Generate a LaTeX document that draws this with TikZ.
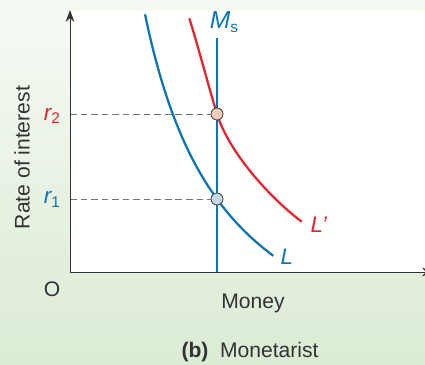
\documentclass[tikz,border=0pt]{standalone}
\usepackage{fontspec}
\setmainfont{Liberation Sans}
\usetikzlibrary{positioning,arrows.meta}
\definecolor{lblue}{HTML}{0A74B4}
\definecolor{lred}{HTML}{E8232B}
\definecolor{bggreen}{HTML}{DBEBD5}
\definecolor{bglight}{HTML}{F6FAF4}
\definecolor{ptpeach}{HTML}{F8CDB5}
\definecolor{ptblue}{HTML}{C8D7E8}
\newcommand{\lowsub}[1]{{\upshape\fontsize{11}{12}\selectfont\raisebox{-0.45ex}{#1}}}

\begin{document}
\begin{tikzpicture}[
    axis/.style={draw=black!80, line width=0.7pt},
    curve/.style={line width=1.6pt},
    guide/.style={draw=black!55, line width=0.6pt, dash pattern=on 4.7pt off 2.8pt},
    pt/.style={circle, draw=black!75, line width=0.6pt, minimum size=0.3cm, inner sep=0pt},
    lab/.style={font=\fontsize{16}{18}\selectfont\itshape, inner sep=0pt},
    txt/.style={font=\fontsize{15}{17}\selectfont, text=black!80, inner sep=0pt}
]
\useasboundingbox (-1.75,-2.325) rectangle (8.875,6.8);
\shade[top color=bglight, bottom color=bggreen] (-1.75,-2.325) rectangle (8.875,6.8);
\fill[white] (0,0) rectangle (8.875,6.525);

\coordinate (O) at (0,0);
\coordinate (ytop) at (0,6.55);
\coordinate (xend) at (9.1,0);
\coordinate (msbot) at (3.675,0);
\coordinate (mstop) at (3.675,5.85);
\coordinate (eq2) at (3.675,3.95);
\coordinate (eq1) at (3.675,1.825);
\coordinate (r2ax) at (0,3.95);
\coordinate (r1ax) at (0,1.825);
\coordinate (ldtop) at (2.983,6.343);
\coordinate (ldend) at (5.793,1.258);

\draw[curve, lblue] plot[domain=1.875:5.083, samples=60] (\x, {20.63/(\x+0.2)-3.5});
\draw[curve, lred] (ldtop) .. controls (3.2,5.65) and (3.5,4.51) .. (eq2)
    .. controls (3.975,2.99) and (4.993,1.858) .. (ldend);
\draw[curve, lblue] (msbot) -- (mstop);

\node[pt, fill=ptpeach] (e2) at (eq2) {};
\node[pt, fill=ptblue] (e1) at (eq1) {};
\draw[guide] (r2ax) -- (e2.west);
\draw[guide] (r1ax) -- (e1.west);

\draw[axis, -{Stealth[length=3mm, width=2.2mm]}] (O) -- (ytop);
\draw[axis, -{Stealth[length=3mm, width=2.2mm]}] (O) -- (xend);

\node[lab, text=lblue, font=\fontsize{17.5}{19}\selectfont\itshape] (mslab) at (3.85,6.25) {M\lowsub{s}};
\node[lab, text=lblue] (llab) at (5.42,0.38) {L};
\node[lab, text=lred] (lplab) at (6.22,1.18) {L\textquoteright};
\node[lab, text=lred] (r2lab) at (-0.45,3.9) {r\lowsub{2}};
\node[lab, text=lblue] (r1lab) at (-0.45,1.82) {r\lowsub{1}};

\node[txt] (olab) at (-0.45,-0.43) {O};
\node[txt, rotate=90] (ylab) at (-1.2,2.86) {Rate of interest};
\node[txt] (xlab) at (4.575,-0.78) {Money};
\node[txt] (cap) at (4.5,-2.0) {\textbf{(b)}\hspace{0.55em}Monetarist};
\end{tikzpicture}
\end{document}
